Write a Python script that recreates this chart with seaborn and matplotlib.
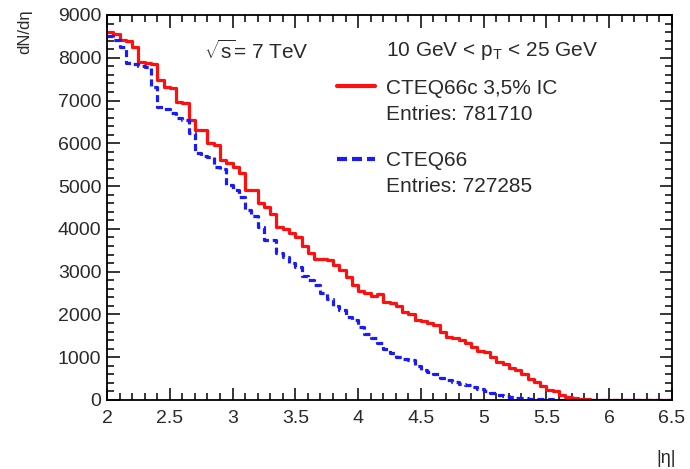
import numpy as np
import pandas as pd
import matplotlib
matplotlib.use("Agg")
import matplotlib.pyplot as plt
from matplotlib.lines import Line2D
from matplotlib.ticker import MultipleLocator
import seaborn as sns

# ---- data -------------------------------------------------------------
eta_min, eta_max = 2.0, 6.5

cteq66c_ic = [
    8600, 8550, 8420, 8400, 8250, 7900, 7880, 7850, 7480, 7320,
    7300, 6970, 6950, 6540, 6310, 6300, 6000, 5950, 5610, 5550,
    5450, 5300, 4910, 4900, 4600, 4500, 4350, 4040, 4000, 3900,
    3800, 3600, 3440, 3300, 3300, 3270, 3150, 3040, 2880, 2700,
    2550, 2500, 2420, 2480, 2300, 2270, 2200, 2050, 2000, 1870,
    1850, 1800, 1750, 1600, 1470, 1450, 1400, 1330, 1250, 1150,
    1120, 1000, 900, 850, 750, 700, 600, 500, 420, 330,
    230, 200, 120, 80, 50, 30, 15, 10, 5, 3,
    2, 1, 1, 0, 0, 0, 0, 0, 0, 0,
]
cteq66 = [
    8500, 8420, 8250, 7880, 7850, 7800, 7790, 7320, 6850, 6800,
    6710, 6600, 6540, 6240, 5770, 5700, 5680, 5450, 5400, 5030,
    4900, 4750, 4440, 4300, 4040, 3750, 3740, 3440, 3350, 3200,
    3110, 2900, 2800, 2690, 2500, 2350, 2200, 2100, 1950, 1870,
    1700, 1550, 1450, 1330, 1200, 1100, 1000, 950, 935, 800,
    700, 650, 600, 520, 470, 420, 380, 350, 300, 260,
    200, 160, 110, 90, 70, 55, 45, 35, 25, 18,
    12, 8, 5, 3, 2, 1, 1, 0, 0, 0,
    0, 0, 0, 0, 0, 0, 0, 0, 0, 0,
]
x_ticks = [2, 2.5, 3, 3.5, 4, 4.5, 5, 5.5, 6, 6.5]
x_tick_labels = ["2", "2.5", "3", "3.5", "4", "4.5", "5", "5.5", "6", "6.5"]
y_ticks = [0, 1000, 2000, 3000, 4000, 5000, 6000, 7000, 8000, 9000]

label_ic = "CTEQ66c 3,5% IC"
label_std = "CTEQ66"
entries_ic = "Entries: 781710"
entries_std = "Entries: 727285"

# ---- build table ------------------------------------------------------
n_bins = len(cteq66c_ic)
edges = np.linspace(eta_min, eta_max, n_bins + 1)
centers = (edges[:-1] + edges[1:]) / 2
df = pd.DataFrame({"eta": centers, "ic": cteq66c_ic, "std": cteq66})

# ---- style ------------------------------------------------------------
sns.set_theme(style="ticks")
plt.rcParams["font.family"] = ["Liberation Sans", "DejaVu Sans"]
plt.rcParams["mathtext.fontset"] = "custom"
plt.rcParams["mathtext.rm"] = "Liberation Sans"
plt.rcParams["mathtext.it"] = "Liberation Sans:italic"

W, H = 690, 469
fig = plt.figure(figsize=(W / 100, H / 100), dpi=100)
left, right, top, bottom = 107, 672, 15, 400
ax = fig.add_axes([left / W, 1 - bottom / H, (right - left) / W, (bottom - top) / H])

red = "#ff1010"
blue = "#1a1aff"
txt = "#2a2a2a"

sns.histplot(data=df, x="eta", weights="ic", bins=n_bins, binrange=(eta_min, eta_max),
             element="step", fill=False, color=red, linewidth=2.3, ax=ax)
sns.histplot(data=df, x="eta", weights="std", bins=n_bins, binrange=(eta_min, eta_max),
             element="step", fill=False, color=blue, linewidth=2.3,
             linestyle=(0, (2.2, 1.2)), ax=ax)

ax.set_xlim(eta_min, eta_max)
ax.set_ylim(0, 9000)
ax.set_xticks(x_ticks)
ax.set_xticklabels(x_tick_labels)
ax.set_yticks(y_ticks)
ax.xaxis.set_minor_locator(MultipleLocator(0.1))
ax.yaxis.set_minor_locator(MultipleLocator(200))
ax.tick_params(which="major", direction="in", top=True, right=True,
               length=9, width=1.1, labelsize=14, colors="black", labelcolor=txt)
ax.tick_params(which="minor", direction="in", top=True, right=True,
               length=5, width=1.1, colors="black")
ax.tick_params(axis="x", which="major", pad=7)
ax.tick_params(axis="y", which="major", pad=4)
ax.set_xlabel("")
ax.set_ylabel("")
for s in ax.spines.values():
    s.set_linewidth(1.3)
    s.set_color("black")

# axis titles (ROOT style)
fig.text(25 / W, 1 - 9 / H, "dN/d\u03b7", rotation=90, ha="center", va="top",
         fontsize=12, color=txt)
fig.text(666 / W, 1 - 458 / H, "|\u03b7|", ha="center", va="center",
         fontsize=13, color=txt)

# annotations / legend
def fx(px):
    return px / W

def fy(py):
    return 1 - py / H

fs = 15
fig.text(fx(256), fy(51), r"$\sqrt{\mathrm{s}}$= 7 TeV", ha="center", va="center",
         fontsize=fs, color=txt)
fig.text(fx(386), fy(51), r"10 GeV < p$_{\mathrm{T}}$ < 25 GeV", ha="left", va="center",
         fontsize=fs, color=txt)
fig.add_artist(Line2D([fx(337), fx(375)], [fy(86), fy(86)], color=red, linewidth=3.0))
fig.text(fx(386), fy(88), label_ic, ha="left", va="center", fontsize=fs, color=txt)
fig.text(fx(386), fy(114), entries_ic, ha="left", va="center", fontsize=fs, color=txt)
fig.add_artist(Line2D([fx(337), fx(375)], [fy(159), fy(159)], color=blue, linewidth=3.0,
                      linestyle=(0, (2.4, 1.2))))
fig.text(fx(386), fy(160), label_std, ha="left", va="center", fontsize=fs, color=txt)
fig.text(fx(386), fy(186), entries_std, ha="left", va="center", fontsize=fs, color=txt)

fig.savefig("out.png", dpi=100)
